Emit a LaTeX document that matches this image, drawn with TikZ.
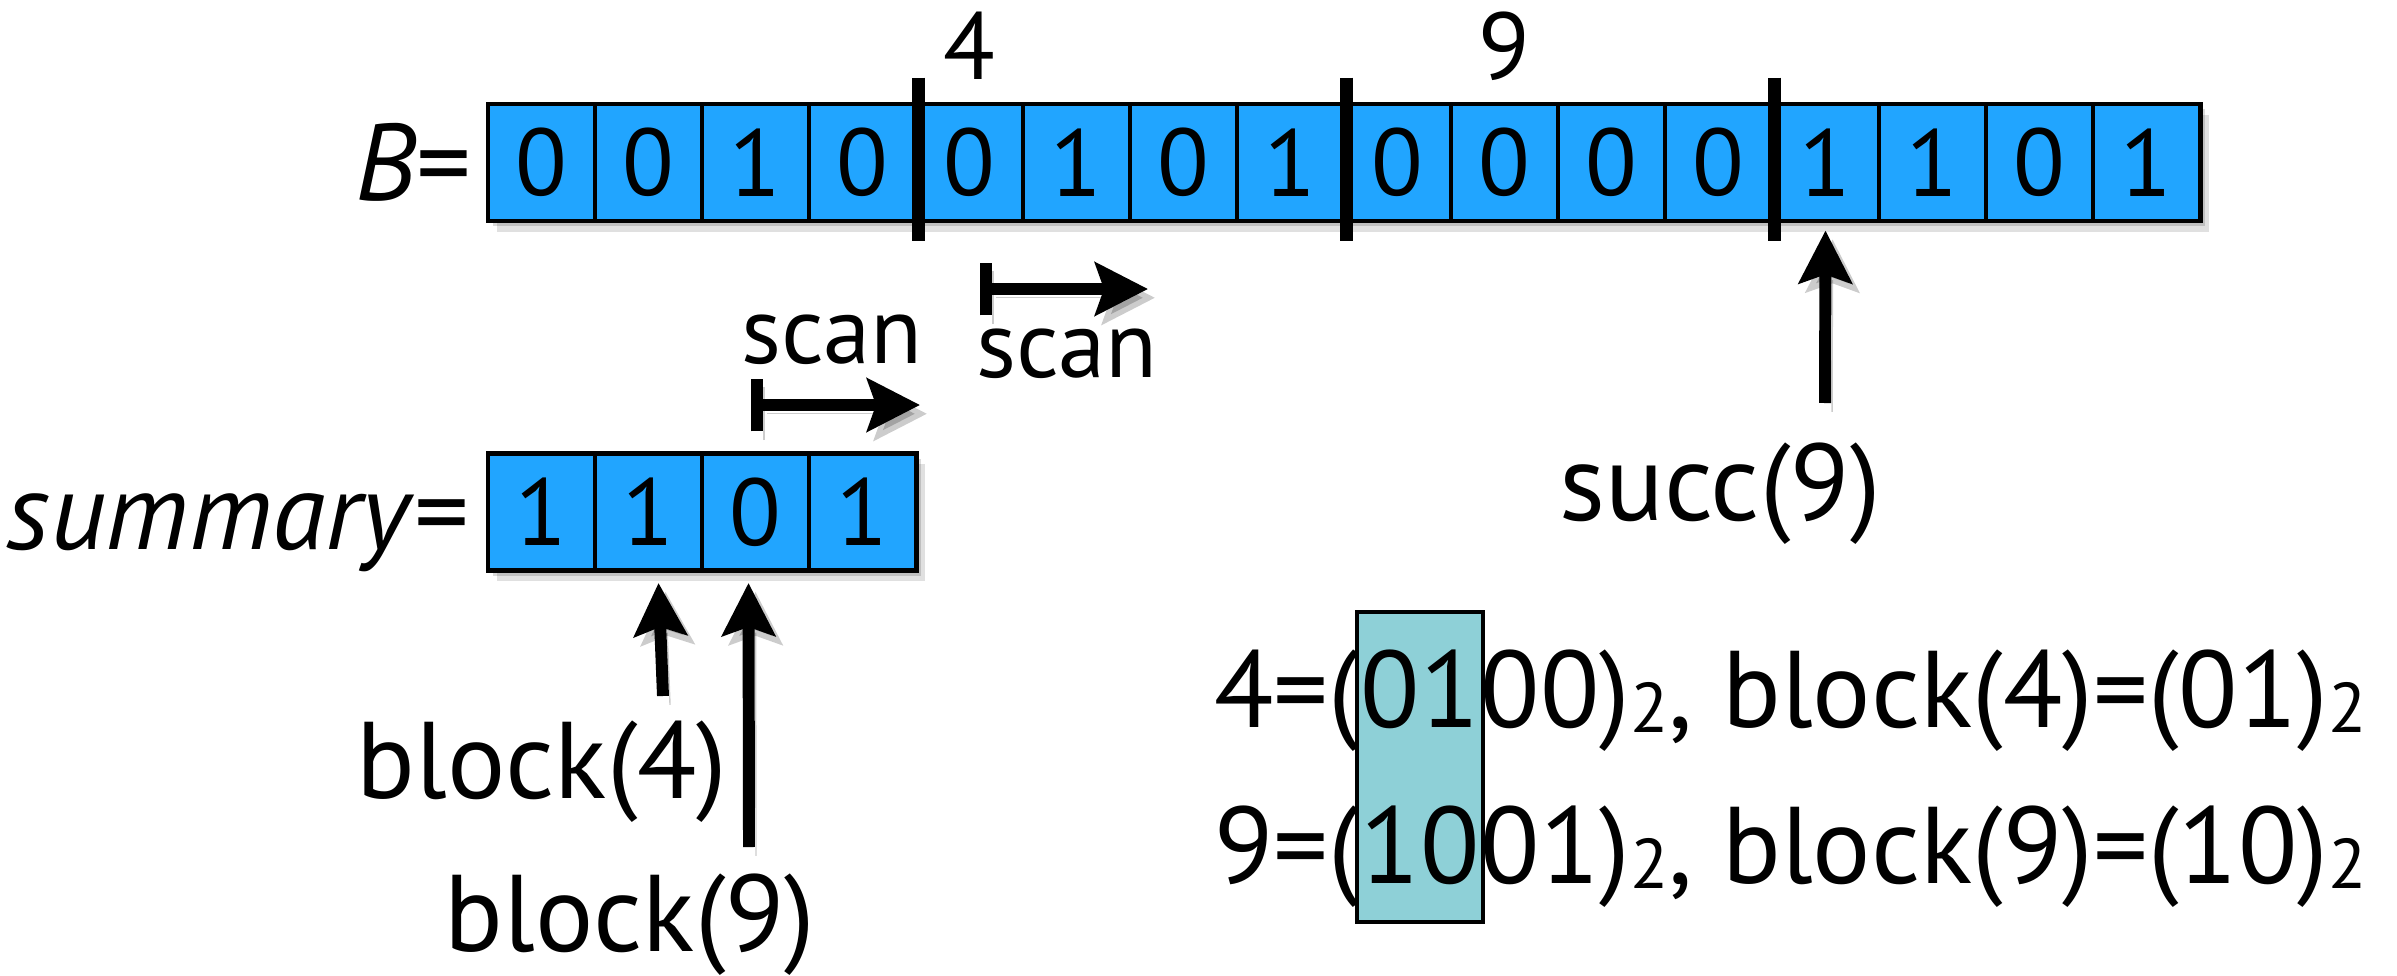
\documentclass[tikz,border=0pt]{standalone}
\usepackage{fontspec}
\setmainfont{PT Sans}
\usetikzlibrary{arrows.meta,calc,shadows,positioning,backgrounds}

\definecolor{bitblue}{RGB}{33,165,255}
\definecolor{maskteal}{RGB}{142,208,215}

\newcommand\lblfont{\fontsize{31}{37}\selectfont}
\newcommand\bitfont{\fontsize{27}{32}\selectfont}
\newcommand\radix[1]{\raisebox{-1.7pt}{\fontsize{20}{24}\selectfont #1}}

\tikzset{
  bit/.style={draw, line width=1.4pt, fill=bitblue, minimum width=1.07cm,
    minimum height=1.17cm, inner sep=0pt, font=\bitfont,
    drop shadow={shadow xshift=1.5pt, shadow yshift=-1.5pt, opacity=.15, fill=black},
    drop shadow={shadow xshift=2.5pt, shadow yshift=-3pt, opacity=.12, fill=black}},
  txt/.style={inner sep=0pt, anchor=base, font=\lblfont},
  small/.style={inner sep=0pt, anchor=base, font=\bitfont},
  blocksep/.style={line width=3.7pt},
  ptr/.style={line width=3.4pt, -{Stealth[length=15pt,width=15pt,inset=2.5pt]},
    preaction={draw=black, opacity=.2, transform canvas={xshift=2pt,yshift=-2.5pt}}},
  scanptr/.style={ptr, {Bar[width=15pt]}-{Stealth[length=15pt,width=15pt,inset=2.5pt]}},
  mask/.style={draw, line width=1.2pt, fill=maskteal}
}

\begin{document}
\begin{tikzpicture}[x=0.01cm, y=-0.01cm]
\useasboundingbox (0,0) rectangle (2397,976);

% bit vector and summary
\foreach \v [count=\i from 0] in {0,0,1,0,0,1,0,1,0,0,0,0,1,1,0,1}
  \node[bit] (b\i) at (541.5+107*\i,162.5) {\v};
\foreach \v [count=\i from 0] in {1,1,0,1}
  \node[bit] (s\i) at (541.5+107*\i,512) {\v};
\node[txt, anchor=base east] (Blbl) at (472,200) {\textit{B}=};
\node[txt, anchor=base east] (sumlbl) at (470,549) {\textit{summary}=};

% block boundaries
\foreach \i in {3,7,11}
  \draw[blocksep] (b\i.north east) ++(0,-24) -- ++(0,163);
\node[small] (idx4) at (b4.center |- 0,80) {4};
\node[small] (idx9) at (b9.center |- 0,80) {9};

% scans
\coordinate (scanB) at (980,289);
\coordinate (scanBend) at (1148,289);
\coordinate (scanS) at (751,405);
\coordinate (scanSend) at (920,405);
\draw[scanptr] (scanB) -- (scanBend);
\draw[scanptr] (scanS) -- (scanSend);
\node[small] (scanBlbl) at (1067,377) {scan};
\node[small] (scanSlbl) at (832,363) {scan};

% succ(9)
\node[txt] (succ) at (1720,520) {succ(9)};
\coordinate (succtail) at (1825,403);
\draw[ptr, shorten >=0.07cm] (succtail) -- (b12.south);

% block(4), block(9)
\node[txt] (blk4) at (542,798) {block(4)};
\node[txt] (blk9) at (630,951) {block(9)};
\coordinate (blk4tail) at (663,696);
\coordinate (blk9tail) at (749,847);
\draw[ptr] (blk4tail) -- ($(s1.south)+(10,10)$);
\draw[ptr] (blk9tail) -- ($(s2.south)+(-7,10)$);

% binary expansions, high bits boxed
\node[txt, anchor=base east] (e4a) at (1360,727) {4=(};
\node[txt, anchor=base west] (e4b) at (e4a.base east) {01};
\node[txt, anchor=base west] (e4c) at (e4b.base east) {00)\radix{2}, block(4)=(01)\radix{2}};
\node[txt, anchor=base east] (e9a) at (1360,883) {9=(};
\node[txt, anchor=base west] (e9b) at (e9a.base east) {10};
\node[txt, anchor=base west] (e9c) at (e9b.base east) {01)\radix{2}, block(9)=(10)\radix{2}};
\begin{scope}[on background layer]
  \draw[mask] ($(e4b.west |- 0,612)+(-3,0)$) rectangle ($(e9b.east |- 0,922)+(3,0)$);
\end{scope}
\end{tikzpicture}
\end{document}
